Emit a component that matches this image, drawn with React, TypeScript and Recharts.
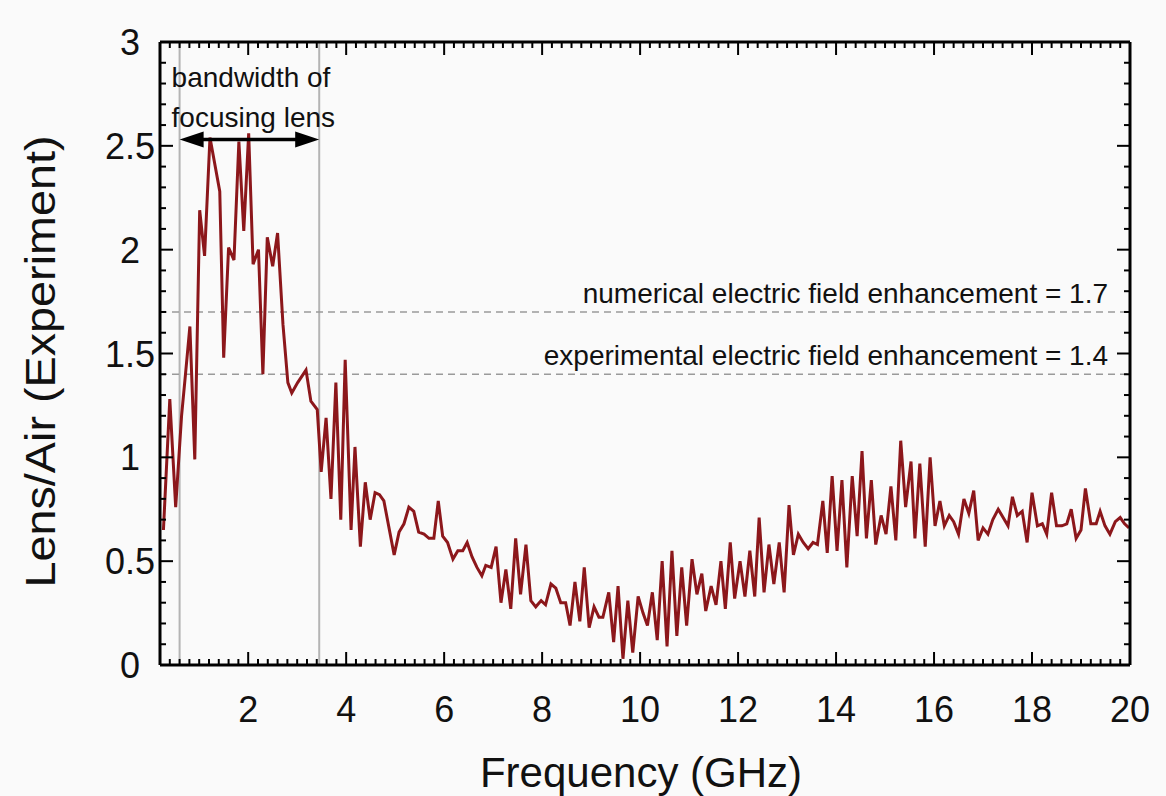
import React from "react";
import {
  LineChart,
  Line,
  XAxis,
  YAxis,
  ReferenceLine,
} from "recharts";

// frequency in GHz
const freq = [
  0.27, 0.4, 0.52, 0.64, 0.72, 0.81, 0.91, 1.01, 1.11, 1.22, 1.42, 1.5, 1.6, 1.71, 1.81, 1.91,
  2.01, 2.1, 2.21, 2.3, 2.39, 2.5, 2.6, 2.71, 2.81, 2.89, 3.01, 3.18, 3.28, 3.41, 3.49, 3.59,
  3.69, 3.79, 3.89, 3.98, 4.1, 4.18, 4.29, 4.39, 4.49, 4.59, 4.68, 4.77, 4.98, 5.08, 5.18, 5.28,
  5.38, 5.48, 5.59, 5.69, 5.79, 5.88, 5.97, 6.07, 6.18, 6.28, 6.38, 6.47, 6.57, 6.67, 6.77, 6.85,
  6.96, 7.06, 7.16, 7.26, 7.36, 7.46, 7.56, 7.67, 7.77, 7.87, 7.98, 8.07, 8.18, 8.28, 8.38, 8.48,
  8.57, 8.67, 8.77, 8.86, 8.96, 9.06, 9.16, 9.24, 9.36, 9.46, 9.55, 9.65, 9.75, 9.85, 9.96, 10.06,
  10.15, 10.25, 10.35, 10.45, 10.55, 10.65, 10.75, 10.85, 10.95, 11.06, 11.16, 11.26, 11.34, 11.45, 11.55, 11.65,
  11.74, 11.84, 11.93, 12.04, 12.14, 12.24, 12.34, 12.43, 12.53, 12.63, 12.73, 12.84, 12.94, 13.04, 13.13, 13.23,
  13.33, 13.43, 13.53, 13.62, 13.73, 13.82, 13.92, 14.02, 14.12, 14.22, 14.33, 14.43, 14.53, 14.62, 14.72, 14.81,
  14.92, 15.02, 15.12, 15.22, 15.32, 15.42, 15.53, 15.61, 15.71, 15.82, 15.92, 16.02, 16.12, 16.21, 16.31, 16.4,
  16.5, 16.61, 16.71, 16.81, 16.9, 17.0, 17.1, 17.2, 17.31, 17.41, 17.51, 17.6, 17.7, 17.8, 17.9, 18.0,
  18.11, 18.21, 18.3, 18.4, 18.5, 18.61, 18.71, 18.8, 18.9, 19.0, 19.09, 19.2, 19.31, 19.39, 19.49, 19.59,
  19.7, 19.8, 19.89, 19.98,
];

// Lens/Air ratio (experiment)
const lensAir = [
  0.65, 1.28, 0.76, 1.2, 1.4, 1.63, 0.99, 2.19, 1.97, 2.54, 2.28, 1.48, 2.01, 1.95, 2.52, 2.09,
  2.56, 1.93, 2.0, 1.4, 2.06, 1.92, 2.08, 1.64, 1.36, 1.31, 1.36, 1.42, 1.27, 1.23, 0.93, 1.19,
  0.8, 1.36, 0.7, 1.47, 0.65, 1.05, 0.57, 0.88, 0.7, 0.83, 0.82, 0.79, 0.53, 0.64, 0.68, 0.76,
  0.74, 0.64, 0.63, 0.61, 0.61, 0.79, 0.62, 0.59, 0.51, 0.55, 0.55, 0.59, 0.52, 0.47, 0.43, 0.48,
  0.47, 0.57, 0.3, 0.46, 0.27, 0.61, 0.34, 0.58, 0.31, 0.28, 0.31, 0.29, 0.39, 0.37, 0.3, 0.3,
  0.19, 0.4, 0.21, 0.47, 0.18, 0.28, 0.23, 0.23, 0.35, 0.11, 0.38, 0.03, 0.31, 0.06, 0.33, 0.25,
  0.19, 0.35, 0.12, 0.5, 0.09, 0.55, 0.14, 0.47, 0.19, 0.51, 0.34, 0.44, 0.26, 0.38, 0.29, 0.5,
  0.27, 0.59, 0.32, 0.5, 0.33, 0.55, 0.33, 0.71, 0.35, 0.58, 0.39, 0.59, 0.35, 0.77, 0.53, 0.63,
  0.59, 0.56, 0.59, 0.58, 0.79, 0.54, 0.91, 0.55, 0.89, 0.47, 0.91, 0.62, 1.03, 0.61, 0.89, 0.58,
  0.72, 0.63, 0.86, 0.6, 1.08, 0.76, 0.98, 0.61, 0.97, 0.57, 1.0, 0.67, 0.79, 0.67, 0.72, 0.69,
  0.63, 0.8, 0.73, 0.84, 0.6, 0.66, 0.63, 0.7, 0.75, 0.71, 0.67, 0.81, 0.72, 0.74, 0.59, 0.83,
  0.67, 0.68, 0.63, 0.83, 0.67, 0.67, 0.68, 0.75, 0.61, 0.65, 0.85, 0.68, 0.68, 0.74, 0.67, 0.63,
  0.69, 0.71, 0.68, 0.66,
];

const xMajorTicks = [2, 4, 6, 8, 10, 12, 14, 16, 18, 20];
const yMajorTicks = [0, 0.5, 1, 1.5, 2, 2.5, 3];
const xTicks = Array.from({ length: 99 }, (_, i) => +(0.4 + i * 0.2).toFixed(1));
const yTicks = Array.from({ length: 31 }, (_, i) => +(i * 0.1).toFixed(1));

const bandEdges = [0.6, 3.45];
const numericalEnh = 1.7;
const experimentalEnh = 1.4;
const arrowLevel = 2.53;

const data = freq.map((f, i) => ({ f, v: lensAir[i] }));

const FONT = "'Liberation Sans', Arial, Helvetica, sans-serif";
const isMajor = (v: number, list: number[]) => list.some((m) => Math.abs(m - v) < 1e-6);

const BottomTick = ({ x, y, payload }: any) => {
  const major = isMajor(payload.value, xMajorTicks);
  return (
    <g>
      <line x1={x} x2={x} y1={y} y2={y - (major ? 13 : 6)} stroke="#000" strokeWidth={2} />
      {major && (
        <text x={x} y={y + 57} textAnchor="middle" fontSize={36} fontFamily={FONT} fill="#111">
          {payload.value}
        </text>
      )}
    </g>
  );
};

const TopTick = ({ x, y, payload }: any) => {
  const major = isMajor(payload.value, xMajorTicks);
  return <line x1={x} x2={x} y1={y} y2={y + (major ? 13 : 6)} stroke="#000" strokeWidth={2} />;
};

const LeftTick = ({ x, y, payload }: any) => {
  const major = isMajor(payload.value, yMajorTicks);
  return (
    <g>
      <line x1={x} x2={x + (major ? 13 : 6)} y1={y} y2={y} stroke="#000" strokeWidth={2} />
      {major && (
        <text x={x - 30} y={y + 13} textAnchor="middle" fontSize={36} fontFamily={FONT} fill="#111">
          {payload.value}
        </text>
      )}
    </g>
  );
};

const RightTick = ({ x, y, payload }: any) => {
  const major = isMajor(payload.value, yMajorTicks);
  return <line x1={x} x2={x - (major ? 13 : 6)} y1={y} y2={y} stroke="#000" strokeWidth={2} />;
};

const XTitle = ({ viewBox }: any) => (
  <text
    x={viewBox.x + viewBox.width / 2 - 4}
    y={viewBox.y + 122}
    textAnchor="middle"
    fontSize={42}
    fontFamily={FONT}
    fill="#111"
  >
    Frequency (GHz)
  </text>
);

const YTitle = ({ viewBox }: any) => {
  const cx = 40;
  const cy = viewBox.y + viewBox.height / 2 + 8;
  return (
    <text
      x={cx}
      y={cy}
      transform={`rotate(-90 ${cx} ${cy})`}
      textAnchor="middle"
      dominantBaseline="central"
      fontSize={43}
      textLength={452}
      lengthAdjust="spacingAndGlyphs"
      fontFamily={FONT}
      fill="#111"
    >
      Lens/Air (Experiment)
    </text>
  );
};

const EnhLabel = ({ viewBox, text }: any) => (
  <text
    x={viewBox.x + viewBox.width - 22}
    y={viewBox.y - 9}
    textAnchor="end"
    fontSize={28}
    fontFamily={FONT}
    fill="#111"
  >
    {text}
  </text>
);

const BandArrow = ({ x1, y1, x2, y2 }: any) => {
  const head = 24;
  const half = 8;
  return (
    <g>
      <line x1={x1 + head - 2} y1={y1} x2={x2 - head + 2} y2={y2} stroke="#000" strokeWidth={3.5} />
      <polygon points={`${x1},${y1} ${x1 + head},${y1 - half} ${x1 + head},${y1 + half}`} fill="#000" />
      <polygon points={`${x2},${y2} ${x2 - head},${y2 - half} ${x2 - head},${y2 + half}`} fill="#000" />
      <text x={x1 - 8} y={y1 - 53} fontSize={28} fontFamily={FONT} fill="#111">
        bandwidth of
      </text>
      <text x={x1 - 8} y={y1 - 13} fontSize={28} fontFamily={FONT} fill="#111">
        focusing lens
      </text>
    </g>
  );
};

export default function App() {
  return (
    <div style={{ position: "absolute", left: 0, top: 0, width: 1166, height: 796, background: "#fafafa" }}>
      <LineChart width={1166} height={796} data={data} margin={{ top: 0, right: 0, bottom: 0, left: 0 }}>
        <XAxis
          dataKey="f"
          type="number"
          domain={[0.2, 20]}
          allowDataOverflow
          ticks={xTicks}
          interval={0}
          tick={<BottomTick />}
          tickLine={false}
          tickSize={0}
          tickMargin={0}
          height={131}
          axisLine={{ stroke: "#000", strokeWidth: 3 }}
          label={<XTitle />}
        />
        <XAxis
          xAxisId="top"
          orientation="top"
          dataKey="f"
          type="number"
          domain={[0.2, 20]}
          allowDataOverflow
          ticks={xTicks}
          interval={0}
          tick={<TopTick />}
          tickLine={false}
          tickSize={0}
          tickMargin={0}
          height={42}
          axisLine={{ stroke: "#000", strokeWidth: 3 }}
        />
        <YAxis
          type="number"
          domain={[0, 3]}
          allowDataOverflow
          ticks={yTicks}
          interval={0}
          tick={<LeftTick />}
          tickLine={false}
          tickSize={0}
          tickMargin={0}
          width={160}
          axisLine={{ stroke: "#000", strokeWidth: 3 }}
          label={<YTitle />}
        />
        <YAxis
          yAxisId="right"
          orientation="right"
          type="number"
          domain={[0, 3]}
          allowDataOverflow
          ticks={yTicks}
          interval={0}
          tick={<RightTick />}
          tickLine={false}
          tickSize={0}
          tickMargin={0}
          width={36}
          axisLine={{ stroke: "#000", strokeWidth: 3 }}
        />
        {bandEdges.map((b) => (
          <ReferenceLine key={b} x={b} stroke="#b4b4b4" strokeWidth={2} />
        ))}
        <ReferenceLine
          y={numericalEnh}
          stroke="#9a9a9a"
          strokeWidth={1.5}
          strokeDasharray="7 5"
          label={<EnhLabel text="numerical electric field enhancement = 1.7" />}
        />
        <ReferenceLine
          y={experimentalEnh}
          stroke="#9a9a9a"
          strokeWidth={1.5}
          strokeDasharray="7 5"
          label={<EnhLabel text="experimental electric field enhancement = 1.4" />}
        />
        <Line
          dataKey="v"
          type="linear"
          stroke="#8c171b"
          strokeWidth={3}
          dot={false}
          isAnimationActive={false}
        />
        <ReferenceLine
          segment={[
            { x: bandEdges[0], y: arrowLevel },
            { x: bandEdges[1], y: arrowLevel },
          ]}
          shape={<BandArrow />}
        />
      </LineChart>
    </div>
  );
}
